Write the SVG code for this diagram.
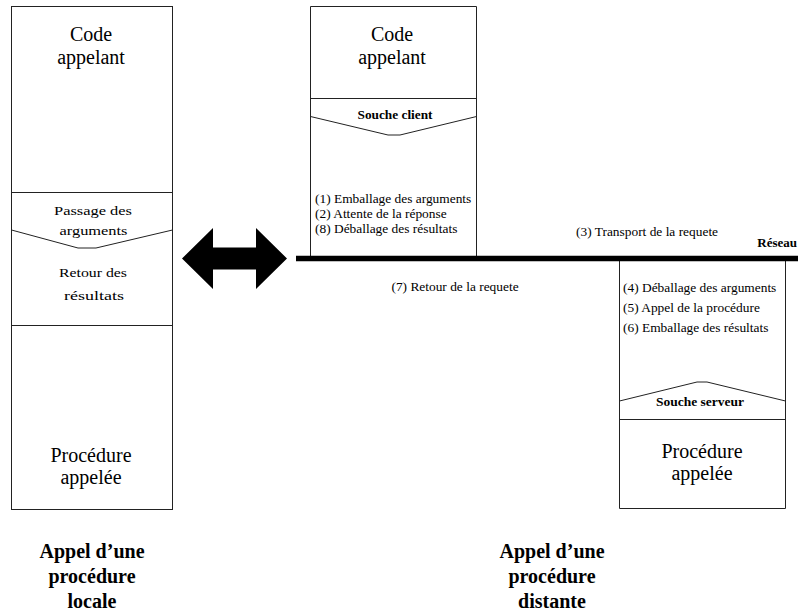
<svg xmlns="http://www.w3.org/2000/svg" width="798" height="611" viewBox="0 0 798 611">
<style>
.box{fill:none;stroke:#222;stroke-width:1}
.ln{fill:none;stroke:#222;stroke-width:1}
text{font-family:'Liberation Serif','Times New Roman',Times,serif;fill:#000}
.big{font-size:20px;text-anchor:middle}
.sm{font-size:13.4px}
.mid{font-size:12px;text-anchor:middle}
.bold{font-size:12.5px;font-weight:bold;text-anchor:middle}
.title{font-size:20px;font-weight:bold;text-anchor:middle}
</style>
<rect width="798" height="611" fill="#fff"/>

<g id="local">
  <rect class="box" x="11.5" y="6.5" width="161" height="503"/>
  <line class="ln" x1="11.5" y1="192.5" x2="172.5" y2="192.5"/>
  <line class="ln" x1="11.5" y1="325.5" x2="172.5" y2="325.5"/>
  <polyline class="ln" points="11.5,230 78,248 96,248 172.5,230"/>
  <text class="big" x="91" y="41">Code</text>
  <text class="big" x="91" y="64">appelant</text>
  <text class="mid" x="93" y="215" textLength="78" lengthAdjust="spacingAndGlyphs">Passage des</text>
  <text class="mid" x="93.5" y="235" textLength="68" lengthAdjust="spacingAndGlyphs">arguments</text>
  <text class="mid" x="93" y="277" textLength="68" lengthAdjust="spacingAndGlyphs">Retour des</text>
  <text class="mid" x="94" y="300" textLength="60" lengthAdjust="spacingAndGlyphs">résultats</text>
  <text class="big" x="91" y="462">Procédure</text>
  <text class="big" x="91" y="484">appelée</text>
</g>

<g id="client">
  <polyline class="box" points="310.5,258 310.5,6.5 476.5,6.5 476.5,258"/>
  <line class="ln" x1="310.5" y1="98.5" x2="476.5" y2="98.5"/>
  <polyline class="ln" points="310.5,116.5 388,135 400,135 476.5,116.5"/>
  <text class="big" x="392" y="41">Code</text>
  <text class="big" x="392" y="64">appelant</text>
  <text class="bold" x="395" y="119" textLength="75" lengthAdjust="spacingAndGlyphs">Souche client</text>
  <text class="sm" x="315" y="203">(1) Emballage des arguments</text>
  <text class="sm" x="315" y="218">(2) Attente de la réponse</text>
  <text class="sm" x="315" y="233">(8) Déballage des résultats</text>
</g>

<g id="serveur">
  <polyline class="box" points="619.5,258 619.5,508.5 785.5,508.5 785.5,258"/>
  <line class="ln" x1="619.5" y1="419.5" x2="785.5" y2="419.5"/>
  <polyline class="ln" points="619.5,401 697,382 707,382 785.5,401"/>
  <text class="sm" x="623" y="292">(4) Déballage des arguments</text>
  <text class="sm" x="623" y="312">(5) Appel de la procédure</text>
  <text class="sm" x="623" y="332">(6) Emballage des résultats</text>
  <text class="bold" x="700" y="406" textLength="88" lengthAdjust="spacingAndGlyphs">Souche serveur</text>
  <text class="big" x="702" y="458">Procédure</text>
  <text class="big" x="702" y="480">appelée</text>
</g>

<g id="reseau">
  <line x1="296" y1="258.5" x2="798" y2="258.5" stroke="#000" stroke-width="5.5"/>
  <text class="bold" x="797" y="247" style="text-anchor:end;font-size:13px">Réseau</text>
  <text class="sm" x="576" y="236">(3) Transport de la requete</text>
  <text class="sm" x="455" y="291" style="text-anchor:middle">(7) Retour de la requete</text>
</g>

<g id="connectors">
  <polygon points="182,258.5 213,228 213,247.5 256,247.5 256,228 287,258.5 256,289 256,269.5 213,269.5 213,289" fill="#000"/>
</g>

<g id="labels">
  <text class="title" x="92" y="558">Appel d’une</text>
  <text class="title" x="92" y="583">procédure</text>
  <text class="title" x="92" y="608">locale</text>
  <text class="title" x="552" y="558">Appel d’une</text>
  <text class="title" x="552" y="583">procédure</text>
  <text class="title" x="552" y="608">distante</text>
</g>
</svg>
